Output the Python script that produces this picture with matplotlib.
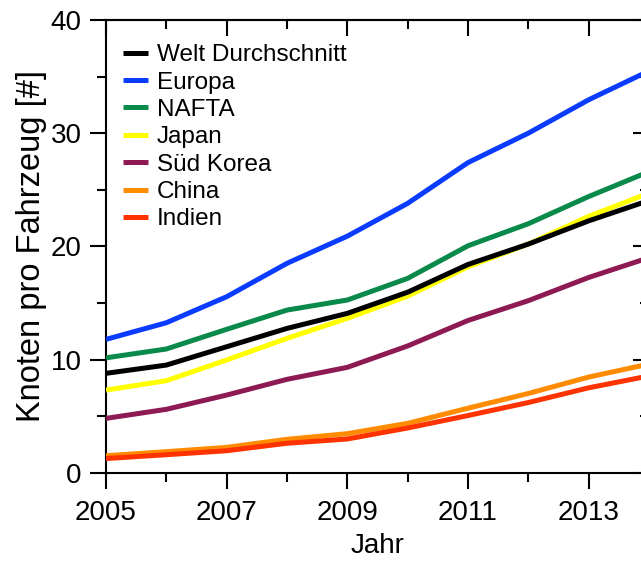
import matplotlib
matplotlib.use("Agg")
import matplotlib.pyplot as plt
from matplotlib.ticker import MultipleLocator, FixedLocator, NullFormatter

plt.rcParams['font.family'] = ['Liberation Sans', 'DejaVu Sans']

years = [2005, 2006, 2007, 2008, 2009, 2010, 2011, 2012, 2013, 2014]
welt = [8.78, 9.51, 11.13, 12.75, 14.08, 15.95, 18.4, 20.2, 22.25, 24.05]
europa = [11.78, 13.25, 15.55, 18.5, 20.9, 23.8, 27.4, 30.0, 32.95, 35.5]
nafta = [10.15, 10.93, 12.67, 14.37, 15.26, 17.17, 20.05, 22.0, 24.4, 26.6]
japan = [7.3, 8.13, 9.96, 11.87, 13.64, 15.6, 18.2, 20.2, 22.65, 24.7]
korea = [4.8, 5.6, 6.86, 8.25, 9.31, 11.2, 13.45, 15.2, 17.25, 19.0]
china = [1.5, 1.86, 2.24, 2.95, 3.45, 4.36, 5.7, 7.0, 8.45, 9.6]
indien = [1.25, 1.59, 1.94, 2.6, 2.98, 3.95, 5.05, 6.2, 7.5, 8.55]

series = [
    ("Welt Durchschnitt", welt, "#000000", 5),
    ("Europa", europa, "#0a3cff", 3),
    ("NAFTA", nafta, "#0a8a4a", 3),
    ("Japan", japan, "#ffff00", 4),
    ("Süd Korea", korea, "#8e1a54", 3),
    ("China", china, "#ff8c00", 3),
    ("Indien", indien, "#ff3300", 4),
]

W, H = 641, 561
fig = plt.figure(figsize=(W / 100, H / 100), dpi=100)
left, right, top, bottom = 106, 649, 20, 472.7
ax = fig.add_axes([left / W, 1 - bottom / H, (right - left) / W, (bottom - top) / H])

for name, vals, col, z in series:
    ax.plot(years, vals, color=col, lw=3.6, label=name, zorder=z, solid_capstyle='butt')

ax.set_xlim(2005, 2014)
ax.set_ylim(0, 40)

ax.xaxis.set_major_locator(FixedLocator([2005, 2007, 2009, 2011, 2013]))
ax.xaxis.set_minor_locator(MultipleLocator(1))
ax.yaxis.set_major_locator(MultipleLocator(10))
ax.yaxis.set_minor_locator(MultipleLocator(5))

for s in ax.spines.values():
    s.set_linewidth(1.5)

ax.tick_params(which='major', direction='out', length=11.5, width=1.5, labelsize=20, pad=6)
ax.tick_params(axis='x', which='major', pad=8.5)
ax.tick_params(which='minor', direction='out', length=6.5, width=1.5)

secx = ax.secondary_xaxis('top')
secx.xaxis.set_major_locator(FixedLocator([2005, 2007, 2009, 2011, 2013]))
secx.xaxis.set_minor_locator(MultipleLocator(1))
secx.xaxis.set_major_formatter(NullFormatter())
secx.tick_params(which='major', direction='in', length=11.5, width=1.5)
secx.tick_params(which='minor', direction='in', length=6.5, width=1.5)
secx.spines['top'].set_linewidth(1.5)

secy = ax.secondary_yaxis('right')
secy.yaxis.set_major_locator(MultipleLocator(10))
secy.yaxis.set_minor_locator(MultipleLocator(5))
secy.yaxis.set_major_formatter(NullFormatter())
secy.tick_params(which='major', direction='in', length=11.5, width=1.5)
secy.tick_params(which='minor', direction='in', length=6.5, width=1.5)
secy.spines['right'].set_linewidth(1.5)

ax.set_xlabel("Jahr", fontsize=20, labelpad=5)
ax.set_ylabel("Knoten pro Fahrzeug [#]", fontsize=23.5, labelpad=3)

leg = ax.legend(loc='upper left', bbox_to_anchor=(0.031, 0.9465), frameon=False,
                fontsize=17.5, handlelength=1.05, handletextpad=0.35,
                labelspacing=0.22, borderpad=0, borderaxespad=0)
for l in leg.get_lines():
    l.set_linewidth(3.6)

fig.savefig("out.png", dpi=100)
